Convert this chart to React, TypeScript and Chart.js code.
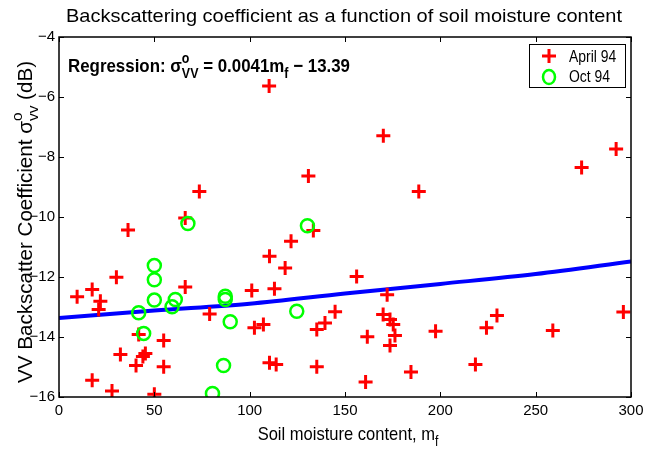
import React, { useEffect, useRef } from "react";
import { Chart, registerables } from "chart.js";

Chart.register(...registerables);

const aprilX = [9.5, 17.4, 21.7, 20.8, 30.1, 36.2, 66.2, 66.2, 79, 73.6, 41.8, 54.9, 32.2, 45.3, 44.0, 40.4, 54.9, 17.4, 27.8, 50, 101.1, 102.5, 107.2, 110.2, 133.4, 121.7, 110.4, 118.6, 156.1, 113, 172.1, 144.8, 139.5, 135.2, 170, 173.6, 175.3, 161.7, 176.2, 173.6, 197.5, 110.4, 113.9, 135.2, 184.6, 160.8, 170.1, 130.8, 188.7, 292.2, 274.1, 229.7, 224.2, 259, 296, 218.4];
const aprilY = [-12.66, -12.42, -12.81, -13.08, -12.01, -10.43, -10.03, -12.33, -13.23, -9.15, -13.92, -14.12, -14.58, -14.55, -14.65, -14.95, -14.99, -15.44, -15.8, -15.91, -12.45, -13.69, -13.58, -5.63, -10.45, -10.81, -11.31, -11.7, -11.98, -12.39, -12.59, -13.16, -13.53, -13.75, -13.25, -13.42, -13.58, -13.99, -13.95, -14.28, -13.81, -14.86, -14.92, -14.99, -15.17, -15.5, -7.29, -8.63, -9.15, -7.73, -8.35, -13.28, -13.69, -13.78, -13.17, -14.92];

const octX = [67.6, 50, 50, 50, 41.8, 61, 59.3, 87.2, 87.2, 89.8, 44.4, 86.3, 80.5, 130.3, 124.7];
const octY = [-10.22, -11.62, -12.09, -12.77, -13.19, -12.75, -12.99, -12.64, -12.75, -13.49, -13.88, -14.95, -15.88, -10.29, -13.14];

const regX = [0, 50, 100, 150, 200, 250, 300];
const regY = [-13.37, -13.12, -12.89, -12.55, -12.23, -11.9, -11.48];

const xTicks = [0, 50, 100, 150, 200, 250, 300];
const yTicks = [-16, -14, -12, -10, -8, -6, -4];

const TITLE = "Backscattering coefficient as a function of soil moisture content";
const LEGEND = ["April 94", "Oct 94"];

const FAM = "'Liberation Sans', Arial, sans-serif";
const SX = 0.87;

type Seg = { t: string; size: number; bold?: boolean; dy?: number; stack?: boolean };

function rawWidth(ctx: CanvasRenderingContext2D, segs: Seg[]) {
  let w = 0;
  let last = 0;
  segs.forEach((s) => {
    ctx.font = `${s.bold ? "bold " : ""}${s.size}px ${FAM}`;
    const m = ctx.measureText(s.t).width;
    if (s.stack) {
      last = m;
    } else {
      w += Math.max(m, last);
      last = 0;
    }
  });
  return w;
}

function drawSegs(ctx: CanvasRenderingContext2D, segs: Seg[], x: number, y: number, sx: number = SX) {
  ctx.save();
  ctx.translate(x, y);
  ctx.scale(sx, 1);
  ctx.fillStyle = "#000";
  ctx.textBaseline = "alphabetic";
  ctx.textAlign = "left";
  let cx = 0;
  let stackW = 0;
  segs.forEach((s) => {
    ctx.font = `${s.bold ? "bold " : ""}${s.size}px ${FAM}`;
    ctx.fillText(s.t, cx, s.dy || 0);
    const m = ctx.measureText(s.t).width;
    if (s.stack) {
      stackW = m;
    } else {
      cx += Math.max(m, stackW);
      stackW = 0;
    }
  });
  ctx.restore();
}

const decor = {
  id: "decor",
  afterDraw(chart: any) {
    const ctx: CanvasRenderingContext2D = chart.ctx;
    const xs = chart.scales.x;
    const ys = chart.scales.y;
    const { left, right, top, bottom } = chart.chartArea;
    ctx.save();
    ctx.strokeStyle = "#000";
    ctx.lineWidth = 1.5;
    ctx.strokeRect(left, top, right - left, bottom - top);
    ctx.lineWidth = 1;
    ctx.beginPath();
    xTicks.forEach((v) => {
      const px = Math.round(xs.getPixelForValue(v)) + 0.5;
      ctx.moveTo(px, bottom);
      ctx.lineTo(px, bottom - 5);
      ctx.moveTo(px, top);
      ctx.lineTo(px, top + 5);
    });
    yTicks.forEach((v) => {
      const py = Math.round(ys.getPixelForValue(v)) + 0.5;
      ctx.moveTo(left, py);
      ctx.lineTo(left + 5, py);
      ctx.moveTo(right, py);
      ctx.lineTo(right - 5, py);
    });
    ctx.stroke();

    // title
    const tSegs: Seg[] = [{ t: TITLE, size: 19 }];
    const tRaw = rawWidth(ctx, tSegs);
    const tTarget = 556;
    drawSegs(ctx, tSegs, 344 - tTarget / 2, 22, tTarget / tRaw);

    // regression text
    const rSegs: Seg[] = [
      { t: "Regression: σ", size: 19, bold: true },
      { t: "o", size: 14, bold: true, dy: -9, stack: true },
      { t: "VV", size: 14, bold: true, dy: 6 },
      { t: " = 0.0041m", size: 19, bold: true },
      { t: "f", size: 14, bold: true, dy: 6 },
      { t: " − 13.39", size: 19, bold: true },
    ];
    const rRaw = rawWidth(ctx, rSegs);
    drawSegs(ctx, rSegs, 68, 72, 282 / rRaw);

    // x label
    const xSegs: Seg[] = [
      { t: "Soil moisture content, m", size: 19 },
      { t: "f", size: 14, dy: 6 },
    ];
    const xw = rawWidth(ctx, xSegs) * SX;
    drawSegs(ctx, xSegs, (left + right) / 2 - xw / 2 + 3, 440);

    // y label
    const ySegs: Seg[] = [
      { t: "VV Backscatter Coefficient σ", size: 20 },
      { t: "o", size: 15, dy: -10, stack: true },
      { t: "vv", size: 15, dy: 6 },
      { t: " (dB)", size: 20 },
    ];
    const yRaw = rawWidth(ctx, ySegs);
    const yTarget = 322;
    ctx.save();
    ctx.translate(32, 222);
    ctx.rotate(-Math.PI / 2);
    drawSegs(ctx, ySegs, -yTarget / 2, 0, yTarget / yRaw);
    ctx.restore();

    // legend
    const lx = 529, ly = 44, lw = 96, lh = 43;
    ctx.fillStyle = "#fff";
    ctx.fillRect(lx, ly, lw, lh);
    ctx.strokeStyle = "#000";
    ctx.lineWidth = 1;
    ctx.strokeRect(lx + 0.5, ly + 0.5, lw, lh);
    ctx.strokeStyle = "rgb(255,0,0)";
    ctx.lineWidth = 3;
    ctx.beginPath();
    ctx.moveTo(549 - 7, 56);
    ctx.lineTo(549 + 7, 56);
    ctx.moveTo(549, 56 - 7);
    ctx.lineTo(549, 56 + 7);
    ctx.stroke();
    ctx.strokeStyle = "rgb(0,255,0)";
    ctx.lineWidth = 2.5;
    ctx.beginPath();
    ctx.ellipse(549, 77, 6, 7, 0, 0, Math.PI * 2);
    ctx.stroke();
    drawSegs(ctx, [{ t: LEGEND[0], size: 16 }], 569, 62);
    drawSegs(ctx, [{ t: LEGEND[1], size: 16 }], 569, 82);
    ctx.restore();
  },
};

export default function App() {
  const ref = useRef<HTMLCanvasElement>(null);
  useEffect(() => {
    if (!ref.current) return;
    const chart = new Chart(ref.current, {
      type: "scatter",
      data: {
        datasets: [
          {
            type: "line",
            label: "Regression",
            data: regX.map((x, i) => ({ x, y: regY[i] })),
            borderColor: "rgb(0,0,255)",
            borderWidth: 4,
            pointRadius: 0,
            showLine: true,
            cubicInterpolationMode: "monotone",
            fill: false,
            order: 3,
          } as any,
          {
            label: LEGEND[0],
            data: aprilX.map((x, i) => ({ x, y: aprilY[i] })),
            pointStyle: "cross",
            pointRadius: 7,
            borderColor: "rgb(255,0,0)",
            backgroundColor: "rgb(255,0,0)",
            borderWidth: 3,
            order: 2,
          },
          {
            label: LEGEND[1],
            data: octX.map((x, i) => ({ x, y: octY[i] })),
            pointStyle: "circle",
            pointRadius: 6.5,
            borderColor: "rgb(0,255,0)",
            backgroundColor: "rgba(0,0,0,0)",
            borderWidth: 2.5,
            order: 1,
          },
        ],
      },
      options: {
        responsive: false,
        animation: false,
        devicePixelRatio: 1,
        layout: { padding: { left: 0, top: 37, right: 26, bottom: 0 } },
        plugins: {
          legend: { display: false },
          title: { display: false },
          tooltip: { enabled: false },
        },
        scales: {
          x: {
            type: "linear",
            min: 0,
            max: 300,
            afterBuildTicks: (s: any) => {
              s.ticks = xTicks.map((v) => ({ value: v }));
            },
            afterFit: (s: any) => {
              s.height = 56;
            },
            ticks: {
              color: "#000",
              font: { size: 15, family: FAM },
              padding: 5,
              maxRotation: 0,
            },
            grid: { display: false, drawTicks: false },
            border: { display: false },
          },
          y: {
            type: "linear",
            min: -16,
            max: -4,
            afterBuildTicks: (s: any) => {
              s.ticks = yTicks.map((v) => ({ value: v }));
            },
            afterFit: (s: any) => {
              s.width = 59;
            },
            ticks: {
              color: "#000",
              font: { size: 15, family: FAM },
              padding: 4,
              callback: (v: any) => String(v).replace("-", "−"),
            },
            grid: { display: false, drawTicks: false },
            border: { display: false },
          },
        },
      },
      plugins: [decor],
    });
    return () => chart.destroy();
  }, []);
  return (
    <div style={{ position: "absolute", left: 0, top: 0, width: 657, height: 453, background: "#fff" }}>
      <canvas ref={ref} width={657} height={453} />
    </div>
  );
}
